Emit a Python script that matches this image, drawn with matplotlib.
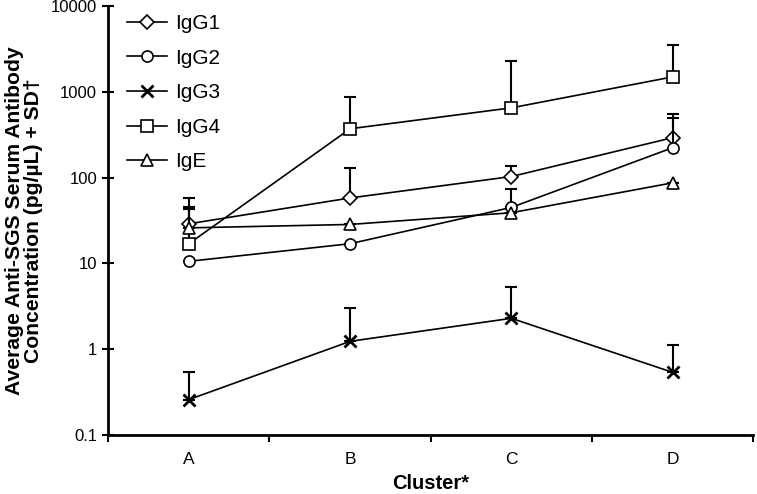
import numpy as np
import matplotlib
matplotlib.use('Agg')
import matplotlib.pyplot as plt

plt.rcParams['font.family'] = ['Liberation Sans', 'DejaVu Sans']

clusters = ['A', 'B', 'C', 'D']
series = ['IgG1', 'IgG2', 'IgG3', 'IgG4', 'IgE']

igg1 = [29, 58, 103, 292]
igg2 = [10.6, 17, 45, 223]
igg3 = [0.26, 1.24, 2.3, 0.54]
igg4 = [17, 371, 650, 1490]
ige = [26, 28.5, 39, 87]

# upper SD only (nan = no bar drawn)
igg1_sd = [29, 73, 35, 258]
igg2_sd = [np.nan, np.nan, 29, 277]
igg3_sd = [0.29, 1.76, 3.0, 0.58]
igg4_sd = [26, 500, 1650, 2040]
ige_sd = [20, np.nan, np.nan, np.nan]

markers = ['D', 'o', 'x', 's', '^']
msizes = [7, 8, 8, 8, 8]

fig = plt.figure(figsize=(7.57, 4.94), dpi=100)
ax = fig.add_axes([0.143, 0.119, 0.852, 0.869])

x = np.arange(len(clusters))
vals = [igg1, igg2, igg3, igg4, ige]
sds = [igg1_sd, igg2_sd, igg3_sd, igg4_sd, ige_sd]
for name, v, sd, m, ms in zip(series, vals, sds, markers, msizes):
    v = np.array(v, dtype=float)
    sd = np.array(sd, dtype=float)
    ax.errorbar(x, v, yerr=[np.zeros_like(sd), sd], fmt='none',
                ecolor='black', elinewidth=1.5, capsize=4, capthick=1.5)
    mew = 2 if m == 'x' else 1.2
    ax.plot(x, v, color='black', lw=1.2, marker=m, ms=ms,
            mfc='white', mec='black', mew=mew, label=name)

ax.set_yscale('log')
ax.set_ylim(0.1, 10000)
ax.set_yticks([0.1, 1, 10, 100, 1000, 10000])
ax.set_yticklabels(['0.1', '1', '10', '100', '1000', '10000'])
ax.yaxis.set_minor_locator(matplotlib.ticker.NullLocator())
ax.set_xlim(-0.5, 3.5)
ax.set_xticks(x)
ax.set_xticklabels(clusters)
ax.set_xticks(np.arange(-0.5, 4, 1), minor=True)
ax.tick_params(axis='x', which='major', length=0, labelsize=12.5, pad=12)
ax.tick_params(axis='x', which='minor', length=5, width=1.5, direction='out')
ax.tick_params(axis='y', length=8, width=1.5, direction='inout', labelsize=12, pad=4)

for s in ['top', 'right']:
    ax.spines[s].set_visible(False)
for s in ['left', 'bottom']:
    ax.spines[s].set_linewidth(2)

ax.set_xlabel('Cluster*', fontsize=14.5, fontweight='bold', labelpad=5)
ax.set_ylabel('Average Anti-SGS Serum Antibody\nConcentration (pg/µL) + SD†',
              fontsize=15.2, fontweight='bold', labelpad=6, linespacing=1.0)

ax.legend(loc='upper left', bbox_to_anchor=(0.0, 1.025), frameon=False,
          fontsize=15, handlelength=1.9, labelspacing=0.75, handletextpad=0.4)

fig.savefig('out.png', dpi=100)
